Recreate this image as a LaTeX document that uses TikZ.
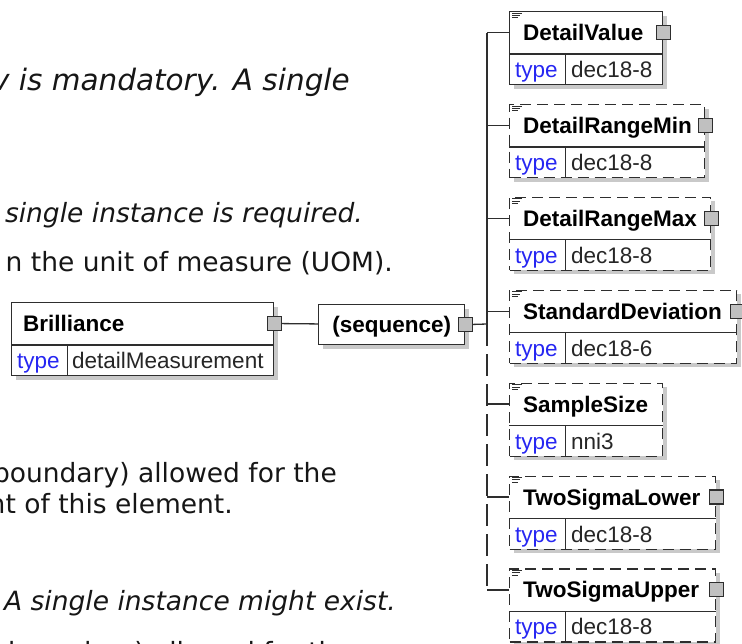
\documentclass[tikz,border=0pt]{standalone}
\usepackage{fontspec}
\setmainfont{Liberation Sans}
\newfontfamily\docfont{DejaVu Sans}
\usetikzlibrary{positioning,calc,shadows}
\definecolor{boxline}{HTML}{2E2E2E}
\definecolor{portgrey}{HTML}{C0C0C0}
\definecolor{shade}{HTML}{C9C9C9}
\definecolor{typeblue}{HTML}{2626F2}
\definecolor{doctext}{HTML}{161616}

\begin{document}
\begin{tikzpicture}[x=1pt,y=-1pt,
elbox/.style={draw=boxline,fill=white,line width=1.3pt,anchor=north west,minimum width=#1,minimum height=73pt,inner sep=0pt,
 drop shadow={shadow xshift=4pt,shadow yshift=-4pt,fill=shade,opacity=1}},
opt/.style={dash pattern=on 11pt off 6pt},
elname/.style={anchor=base west,inner sep=0pt,font=\fontsize{22.5}{26}\selectfont\bfseries},
eltype/.style={anchor=base west,inner sep=0pt,font=\fontsize{22.5}{26}\selectfont,text=typeblue},
elval/.style={anchor=base west,inner sep=0pt,font=\fontsize{22.5}{26}\selectfont,text=black!85},
port/.style={draw=boxline,fill=portgrey,line width=1.1pt,minimum size=14pt,inner sep=0pt},
link/.style={draw=boxline,line width=1.3pt},
doc/.style={anchor=base east,inner sep=0pt,text=doctext,font=\docfont\fontsize{26.5}{32}\selectfont},
docit/.style={doc,font=\docfont\itshape\fontsize{26.5}{32}\selectfont}]
\useasboundingbox (0,0) rectangle (742,643);
% documentation text behind the diagram
\node[docit,font=\docfont\itshape\fontsize{29.5}{34}\selectfont] (d1) at (350,90) {v is mandatory. A single};
\node[docit] (d2) at (363,222) {single instance is required.};
\node[doc] (d3) at (393,271) {n the unit of measure (UOM).};
\node[doc] (d4) at (337,482) {boundary) allowed for the};
\node[doc] (d5) at (233,513) {nt of this element.};
\node[docit] (d6) at (396,610) {A single instance might exist.};
\node[doc] (d7) at (352,661) {boundary) allowed for the};
% element and compositor
\node[elbox=262] (brill) at (11,302) {};
\draw[link] ($(brill.north west)+(0,43)$) -- ($(brill.north east)+(0,43)$);
\draw[link] ($(brill.north west)+(56.5,43)$) -- ($(brill.south west)+(56.5,0)$);
\node[elname] (brillname) at ($(brill.north west)+(12,29.5)$) {Brilliance};
\node[eltype] (brilltype) at ($(brill.north west)+(6,66.5)$) {type};
\node[elval] (brillval) at ($(brill.north west)+(61,66.5)$) {detailMeasurement};
\node[port] (brillport) at ($(brill.north east)+(0,21.5)$) {};
\node[draw=boxline,fill=white,line width=1.3pt,anchor=north west,minimum width=146pt,minimum height=40pt,inner sep=0pt,
 text height=16pt,text depth=0pt,font=\fontsize{22.5}{26}\selectfont\bfseries,
 drop shadow={shadow xshift=4pt,shadow yshift=-4pt,fill=shade,opacity=1}] (seq) at (318,304) {(sequence)};
\node[port] (seqport) at (seq.east) {};
\draw[link] (brillport) -- (seq);
\coordinate (join) at (487,324);
\draw[link] (seqport) -- (join);
% children of the sequence
\foreach \i/\w/\name/\kind/\style in {1/153/DetailValue/dec18-8/solid,2/195/DetailRangeMin/dec18-8/opt,
 3/201/DetailRangeMax/dec18-8/opt,4/227/StandardDeviation/dec18-6/opt,5/153/SampleSize/nni3/opt,
 6/206/TwoSigmaLower/dec18-8/opt,7/206/TwoSigmaUpper/dec18-8/opt}{
 \pgfmathsetmacro\ytop{11+92.9*(\i-1)}
 \node[elbox=\w,\style] (e\i) at (509,\ytop) {};
 \draw[link] ($(e\i.north west)+(0,43)$) -- ($(e\i.north east)+(0,43)$);
 \draw[link] ($(e\i.north west)+(56.5,43)$) -- ($(e\i.south west)+(56.5,0)$);
 \draw[draw=boxline,line width=.8pt] ($(e\i.north west)+(3,2)$) -- +(10,0)
  ($(e\i.north west)+(3,4.3)$) -- +(8,0) ($(e\i.north west)+(3,6.6)$) -- +(6,0);
 \node[elname] (n\i) at ($(e\i.north west)+(14,29.5)$) {\name};
 \node[eltype] (t\i) at ($(e\i.north west)+(6,66.5)$) {type};
 \node[elval] (v\i) at ($(e\i.north west)+(62,66.5)$) {\kind};
 \ifnum\i=5\else\node[port] (p\i) at ($(e\i.north east)+(0,21.5)$) {};\fi
 \coordinate (b\i) at (487,{\ytop+21.5});
 \draw[link] (b\i) -- (b\i -| e\i.west);
}
\draw[link] (b1) -- (join);
\draw[link,dash pattern=on 22pt off 8pt] (join) -- (b7);
\end{tikzpicture}
\end{document}
